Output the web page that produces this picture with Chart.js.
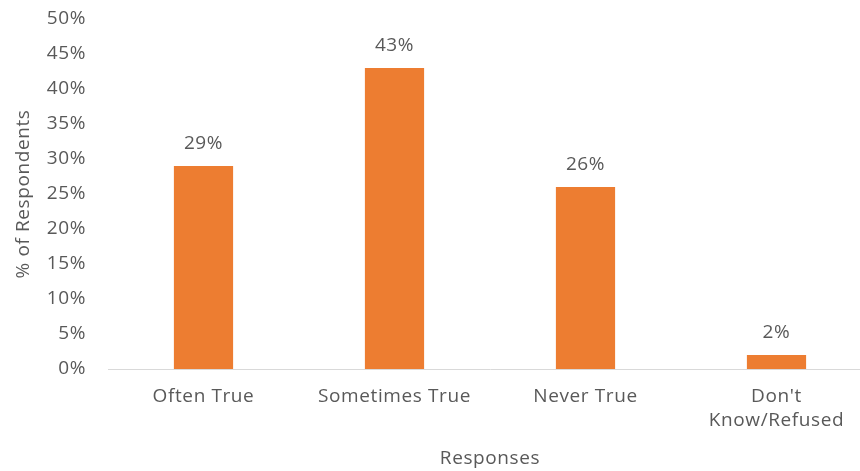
<!DOCTYPE html>
<html>
<head>
<meta charset="utf-8">
<script src="https://cdn.jsdelivr.net/npm/chart.js@4"></script>
<style>
html,body{margin:0;padding:0;background:#fff;overflow:hidden;}
#wrap{width:872px;height:471px;}
</style>
</head>
<body>
<div id="wrap"><canvas id="c" width="872" height="471"></canvas></div>
<script>
const categories = ["Often True", "Sometimes True", "Never True", ["Don't", "Know/Refused"]];
const values = [29, 43, 26, 2];
const yTicks = [0, 5, 10, 15, 20, 25, 30, 35, 40, 45, 50];

const FONT = "'Open Sans', 'DejaVu Sans', sans-serif";
const TXT = "#595959";
const SPACING = '0.6px';

const spacingPlugin = {
  id: 'spacing',
  beforeInit(chart) { chart.ctx.letterSpacing = SPACING; },
  beforeUpdate(chart) { chart.ctx.letterSpacing = SPACING; },
  beforeDraw(chart) { chart.ctx.letterSpacing = SPACING; }
};

const labelPlugin = {
  id: 'barLabels',
  afterDatasetsDraw(chart) {
    const ctx = chart.ctx;
    const meta = chart.getDatasetMeta(0);
    ctx.save();
    ctx.letterSpacing = SPACING;
    ctx.font = "19px " + FONT;
    ctx.fillStyle = TXT;
    ctx.textAlign = 'center';
    ctx.textBaseline = 'alphabetic';
    meta.data.forEach((bar, i) => {
      ctx.fillText(values[i] + '%', bar.x, bar.y - 17);
    });
    ctx.restore();
  }
};

new Chart(document.getElementById('c'), {
  type: 'bar',
  data: {
    labels: categories,
    datasets: [{
      data: values,
      backgroundColor: '#ED7D31',
      borderWidth: 0,
      barPercentage: 0.31,
      categoryPercentage: 1
    }]
  },
  options: {
    responsive: false,
    animation: false,
    layout: { padding: { top: 19, left: 0, right: 0, bottom: 0 } },
    plugins: { legend: { display: false }, tooltip: { enabled: false } },
    scales: {
      y: {
        min: 0, max: 50,
        afterBuildTicks(axis) { axis.ticks = yTicks.map(v => ({ value: v })); },
        afterFit(axis) { axis.width = 108; axis.paddingTop = 0; axis.paddingBottom = 0; },
        grid: { display: false, drawTicks: false },
        border: { display: false },
        ticks: {
          padding: 22,
          color: TXT,
          font: { family: FONT, size: 19 },
          callback: v => v + '%'
        },
        title: {
          display: true,
          text: '% of Respondents',
          color: TXT,
          font: { family: FONT, size: 19 },
          padding: { top: 12, bottom: 0 }
        }
      },
      x: {
        afterFit(axis) { axis.height = 102; axis.paddingLeft = 0; axis.paddingRight = 0; },
        grid: { display: false, drawTicks: false },
        border: { display: true, color: '#d9d9d9', width: 1 },
        ticks: {
          padding: 16,
          color: TXT,
          font: { family: FONT, size: 19, lineHeight: 1.25 },
          maxRotation: 0
        },
        title: {
          display: true,
          text: 'Responses',
          color: TXT,
          font: { family: FONT, size: 19 },
          padding: { top: 0, bottom: 1 }
        }
      }
    }
  },
  plugins: [spacingPlugin, labelPlugin]
});
</script>
</body>
</html>
